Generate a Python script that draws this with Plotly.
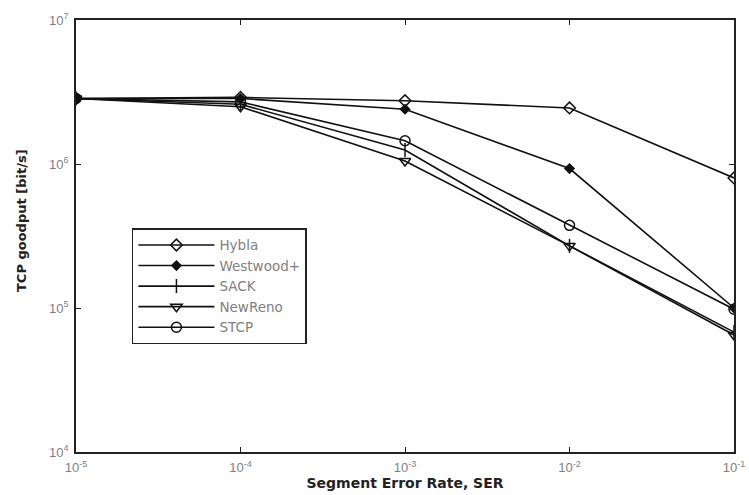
import plotly.graph_objects as go

ser = [1e-5, 1e-4, 1e-3, 1e-2, 1e-1]
hybla = [2.85e6, 2.9e6, 2.75e6, 2.45e6, 8.0e5]
westwood = [2.85e6, 2.85e6, 2.4e6, 9.3e5, 1.0e5]
sack = [2.85e6, 2.6e6, 1.25e6, 2.7e5, 6.8e4]
newreno = [2.85e6, 2.5e6, 1.05e6, 2.7e5, 6.5e4]
stcp = [2.85e6, 2.7e6, 1.45e6, 3.75e5, 9.8e4]

series_names = ["Hybla", "Westwood+", "SACK", "NewReno", "STCP"]
series_vals = [hybla, westwood, sack, newreno, stcp]
markers = [
    dict(symbol="diamond-open", size=9),
    dict(symbol="diamond", size=7),
    dict(symbol="line-ns-open", size=10),
    dict(symbol="triangle-down-open", size=10),
    dict(symbol="circle-open", size=10),
]

xtick_vals = [1e-5, 1e-4, 1e-3, 1e-2, 1e-1]
xtick_text = ["10<sup>-5</sup>", "10<sup>-4</sup>", "10<sup>-3</sup>", "10<sup>-2</sup>", "10<sup>-1</sup>"]
ytick_vals = [1e4, 1e5, 1e6, 1e7]
ytick_text = ["10<sup>4</sup>", "10<sup>5</sup>", "10<sup>6</sup>", "10<sup>7</sup>"]

fig = go.Figure()
for name, vals, mk in zip(series_names, series_vals, markers):
    fig.add_trace(go.Scatter(
        x=ser, y=vals, name=name, mode="lines+markers",
        line=dict(color="#111111", width=1.6),
        marker=dict(color="#111111", line=dict(color="#111111", width=1.5), **mk),
    ))

axis_common = dict(
    showgrid=False, zeroline=False, showline=True, linecolor="#222222", linewidth=1.5,
    mirror="ticks", ticks="inside", ticklen=5, tickcolor="#222222", tickwidth=1,
    automargin=False, ticklabelstandoff=3,
    tickfont=dict(family="Liberation Sans, Arial", size=13, color="#808080"),
)

fig.update_layout(
    width=749, height=495,
    paper_bgcolor="white", plot_bgcolor="white",
    margin=dict(l=76, r=15, t=20, b=43),
    xaxis=dict(type="log", range=[-5, -1], tickvals=xtick_vals, ticktext=xtick_text,
               title=dict(text="<b>Segment Error Rate, SER</b>", standoff=3,
                          font=dict(family="DejaVu Sans", size=14, color="#222222")),
               **axis_common),
    yaxis=dict(type="log", range=[4, 7], tickvals=ytick_vals, ticktext=ytick_text,
               **axis_common),
    annotations=[dict(text="<b>TCP goodput [bit/s]</b>", textangle=-90,
                      xref="paper", yref="paper", x=-0.0836, y=0.537,
                      xanchor="center", yanchor="middle", showarrow=False,
                      font=dict(family="DejaVu Sans", size=13, color="#222222"))],
    legend=dict(x=0.085, y=0.518, xanchor="left", yanchor="top",
                bordercolor="#222222", borderwidth=1.5, bgcolor="white",
                font=dict(family="DejaVu Sans", size=13.5, color="#808080"),
                itemwidth=76, tracegroupgap=0),
    showlegend=True,
)

fig.write_html("out.html", config={"displayModeBar": False},
               post_script="document.body.style.margin='0px';")
